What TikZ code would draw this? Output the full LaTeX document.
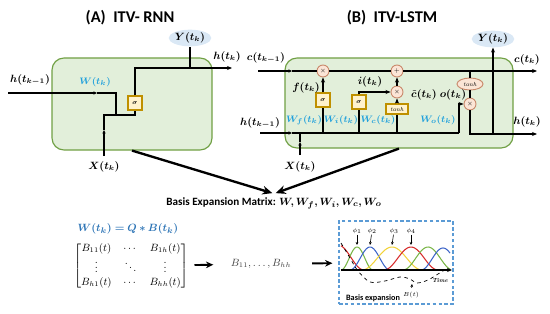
\documentclass[tikz,border=0pt]{standalone}
\usepackage{amsmath,amssymb,bm}
\usepackage{fontspec}
\newfontfamily\calfont{Carlito}
\usetikzlibrary{arrows.meta,positioning,calc,shapes.geometric}
\definecolor{cellfill}{HTML}{E2EFDA}
\definecolor{cellgreen}{HTML}{70A044}
\definecolor{wblue}{HTML}{1FA0DC}
\definecolor{eqblue}{HTML}{2E75B6}
\definecolor{gatefill}{HTML}{FFF2CC}
\definecolor{gatedraw}{HTML}{BF9000}
\definecolor{mulfill}{HTML}{FBE5D6}
\definecolor{muldraw}{HTML}{C9896B}
\definecolor{yfill}{HTML}{DAE8F5}
\definecolor{dboxblue}{HTML}{5B9BD5}
\definecolor{cred}{HTML}{D62828}
\definecolor{cgreen}{HTML}{7AB648}
\definecolor{cblue}{HTML}{3C64C8}
\definecolor{cyel}{HTML}{F2D33A}
\tikzset{
  >={Stealth[length=1.5mm,width=1.2mm]},
  % celler
  cell/.style={draw=cellgreen,fill=cellfill,line width=1pt,rounded corners=3.6mm},
  wire/.style={draw=black,line width=1.1pt},
  tip/.style={-{Stealth[length=1.1mm,width=1mm]}},
  gate/.style={rectangle,draw=gatedraw,fill=gatefill,line width=1pt,inner sep=0pt,
               minimum size=4.2mm,font=\tiny},
  tbox/.style={rectangle,draw=gatedraw,fill=gatefill,line width=1pt,inner sep=0pt,
               minimum width=6.6mm,minimum height=3mm,font=\tiny},
  mul/.style={circle,draw=muldraw,fill=mulfill,line width=0.8pt,inner sep=0pt,
              minimum size=3.6mm,font=\tiny},
  tel/.style={ellipse,draw=muldraw,fill=mulfill,line width=0.8pt,inner sep=0pt,
              minimum width=7.8mm,minimum height=3.6mm,font=\tiny},
  yout/.style={ellipse,fill=yfill,inner sep=0pt,minimum width=11mm,minimum height=5mm,
               font=\fontsize{9}{11}\selectfont},
  lab/.style={inner sep=1pt,font=\fontsize{9}{11}\selectfont},
  wl/.style={inner sep=0.5pt,text=wblue,font=\fontsize{8.5}{10}\selectfont},
  ttl/.style={font=\fontsize{14}{16}\selectfont\calfont\bfseries},
  % nederdel
  big/.style={->,line width=2pt,>={Stealth[length=3mm,width=2.6mm]}},
  mid/.style={->,line width=1.6pt,>={Stealth[length=2.2mm,width=2mm]}},
  dbox/.style={draw=dboxblue,line width=1pt,dash pattern=on 3pt off 2pt},
  bump/.style={line width=0.9pt,samples=40},
}

\begin{document}
\begin{tikzpicture}[x=0.3mm,y=-0.3mm]
  \useasboundingbox (0,0) rectangle (550,313);
  % (A) ITV-RNN
  \node[ttl] (ta) at (130,18) {(A)\ \ ITV- RNN};
  \node[cell,minimum width=48mm,minimum height=27.6mm] (rnn) at (132,104) {};
  \node[gate] (sg) at (135,103) {$\bm\sigma$};
  \node[yout] (ya) at (190,38) {$\bm{Y(t_k)}$};
  \node[lab] (lha) at (30,80) {$\bm{h(t_{k-1})}$};
  \node[wl] (wa) at (95,82) {$\bm{W(t_k)}$};
  \node[lab] (lxa) at (104,167) {$\bm{X(t_k)}$};
  \node[lab] (lhb) at (227,57) {$\bm{h(t_k)}$};
  \coordinate (hin) at (8,93);
  \coordinate (hm) at (97,93);
  \coordinate (hj) at (116,115);
  \coordinate (xin) at (104,156);
  \coordinate (xm) at (104,130);
  \coordinate (hout) at (232,68);
  \draw[wire,tip] (hin) -- (hm);
  \draw[wire] (hm) -| (hj);
  \draw[wire,tip] (xin) -- (xm);
  \draw[wire] (xm) |- (hj) -| (sg);
  \draw[wire,->] (sg) |- (hout);
  \draw[wire] (ya |- hout) -- (ya);
  % (B) ITV-LSTM
  \node[ttl] (tb) at (392,18) {(B)\ \ ITV-LSTM};
  \node[cell,minimum width=68.4mm,minimum height=27mm] (lstm) at (399,103) {};
  \node[mul] (mf) at (323,71) {$\times$};
  \node[mul] (pl) at (397,71) {$+$};
  \node[mul] (mi) at (397,92) {$\times$};
  \node[mul] (mo) at (470,104) {$\times$};
  \node[gate] (sf) at (323,100) {$\bm\sigma$};
  \node[gate] (si) at (359,102) {$\bm\sigma$};
  \node[tbox] (tc) at (397,109) {\textit{tanh}};
  \node[tel] (to) at (470,84) {\textit{tanh}};
  \node[yout] (yb) at (493,39) {$\bm{Y(t_k)}$};
  \node[lab] (lc0) at (266,58) {$\bm{c(t_{k-1})}$};
  \node[lab] (lc1) at (527,60) {$\bm{c(t_k)}$};
  \node[lab] (lh0) at (260,123) {$\bm{h(t_{k-1})}$};
  \node[lab] (lh1) at (527,122) {$\bm{h(t_k)}$};
  \node[lab] (lxb) at (300,167) {$\bm{X(t_k)}$};
  \node[lab] (lf) at (306,88) {$\bm{f(t_k)}$};
  \node[lab] (li) at (370,82) {$\bm{i(t_k)}$};
  \node[lab] (lct) at (424,95) {$\bm{\tilde c(t_k)}$};
  \node[lab] (lo) at (453,95) {$\bm{o(t_k)}$};
  \node[wl] (wf) at (304,120) {$\bm{W_f(t_k)}$};
  \node[wl] (wi) at (341,120) {$\bm{W_i(t_k)}$};
  \node[wl] (wc) at (378,120) {$\bm{W_c(t_k)}$};
  \node[wl] (wo) at (438,120) {$\bm{W_o(t_k)}$};
  \coordinate (cin) at (258,71);
  \coordinate (cm) at (292,71);
  \coordinate (cout) at (537,71);
  \coordinate (hin2) at (260,133);
  \coordinate (hm2) at (292,133);
  \coordinate (hk) at (459,133);
  \coordinate (xin2) at (300,155);
  \coordinate (xm2) at (300,142);
  \coordinate (hout2) at (537,134);
  \draw[wire,tip] (cin) -- (cm);
  \draw[wire] (cm) -- (mf);
  \draw[wire] (mf) -- (pl);
  \draw[wire,->] (pl) -- (cout);
  \draw[wire,tip] (hin2) -- (hm2);
  \draw[wire] (hm2) -- (hk);
  \draw[wire,->] (hk) |- (mo);
  \draw[wire,tip] (xin2) -- (xm2);
  \draw[wire] (xm2) -- (xm2 |- hk);
  \draw[wire] (sf |- hk) -- (sf);
  \draw[wire,->] (sf) -- (mf);
  \draw[wire] (si |- hk) -- (si);
  \draw[wire,->] (si) |- (mi);
  \draw[wire] (tc |- hk) -- (tc);
  \draw[wire,->] (tc) -- (mi);
  \draw[wire,->] (mi) -- (pl);
  \draw[wire] (to |- cout) -- (to);
  \draw[wire] (to) -- (mo);
  \draw[wire,->] (mo) |- (hout2);
  \draw[wire,->] (yb |- hout2) -- (yb);
  % basexpansion
  \node[font=\fontsize{9.5}{11}\selectfont\calfont\bfseries] (bem) at (274,203)
    {Basis Expansion Matrix: $\bm{W,W_f,W_i,W_c,W_o}$};
  \draw[big] (rnn.south) -- ([xshift=-0.5mm]bem.north);
  \draw[big] (lstm.south) -- ([xshift=0.5mm]bem.north);
  \node[text=eqblue,font=\fontsize{9.5}{11}\selectfont] (eq) at (128,229)
    {$\bm{W(t_k)=Q*B(t_k)}$};
  \node[font=\small,inner sep=1pt] (mat) at (131,266) {$\begin{bmatrix}
      B_{11}(t) & \cdots & B_{1h}(t)\\
      \vdots & \ddots & \vdots\\
      B_{h1}(t) & \cdots & B_{hh}(t)
    \end{bmatrix}$};
  \node[text=black!75,font=\small] (bl) at (261,264) {$B_{11},\ldots,B_{hh}$};
  \node[dbox,minimum width=34.2mm,minimum height=24.9mm] (bexp) at (396,262.5) {};
  \draw[mid,shorten <=1.5mm,shorten >=4mm] (mat) -- (bl);
  \draw[mid,shorten <=5mm,shorten >=1.8mm] (bl) -- (bexp);
  % kurvor
  \draw[cred,bump] plot[domain=341:364] (\x,{270-25*(0.5+0.5*cos(180*(\x-338)/26))});
  \draw[cgreen,bump] plot[domain=341:373] (\x,{270-23*(0.5+0.5*cos(180*(\x-357)/16))});
  \draw[cblue,bump] plot[domain=350:390] (\x,{270-23*(0.5+0.5*cos(180*(\x-370)/20))});
  \draw[cyel,bump] plot[domain=362:422] (\x,{270-23*(0.5+0.5*cos(180*(\x-392)/30))});
  \draw[cred,bump] plot[domain=384:438] (\x,{270-23*(0.5+0.5*cos(180*(\x-411)/27))});
  \draw[cgreen,bump] plot[domain=403:450] (\x,{270-23*(0.5+0.5*cos(180*(\x-428)/25))});
  \draw[cblue,bump] plot[domain=421:450] (\x,{270-22*(0.5+0.5*cos(180*(\x-443)/22))});
  \coordinate (t0) at (341,270);
  \coordinate (t1) at (452,270);
  \draw[line width=1.3pt,->] (t0) -- (t1);
  \node[font=\tiny\bfseries\itshape] (tm) at (440,281) {Time};
  \draw[dashed,line width=0.6pt] plot[smooth] coordinates {(341,243) (350,258) (358,271)
    (370,282) (385,281) (400,277) (410,279) (417,283) (428,280) (438,274) (448,268)};
  \node[font=\tiny] (lb) at (411,295) {$B(t)$};
  \coordinate (bt) at (412,284);
  \draw[line width=0.5pt,->,>={Stealth[length=0.9mm,width=0.8mm]}] (lb) -- (bt);
  \node[font=\scriptsize\calfont\bfseries,anchor=west] (lbe) at (342,298) {Basis expansion};
  \foreach \n/\px/\pk in {1/357/357,2/372/370,3/394/392,4/411/411}{
    \node[font=\tiny,inner sep=0.5pt] (p\n) at (\px,231) {$\phi_\n$};
    \draw[line width=0.5pt,->,>={Stealth[length=0.9mm,width=0.8mm]}] (p\n) -- (\pk,245);
  }
\end{tikzpicture}
\end{document}
